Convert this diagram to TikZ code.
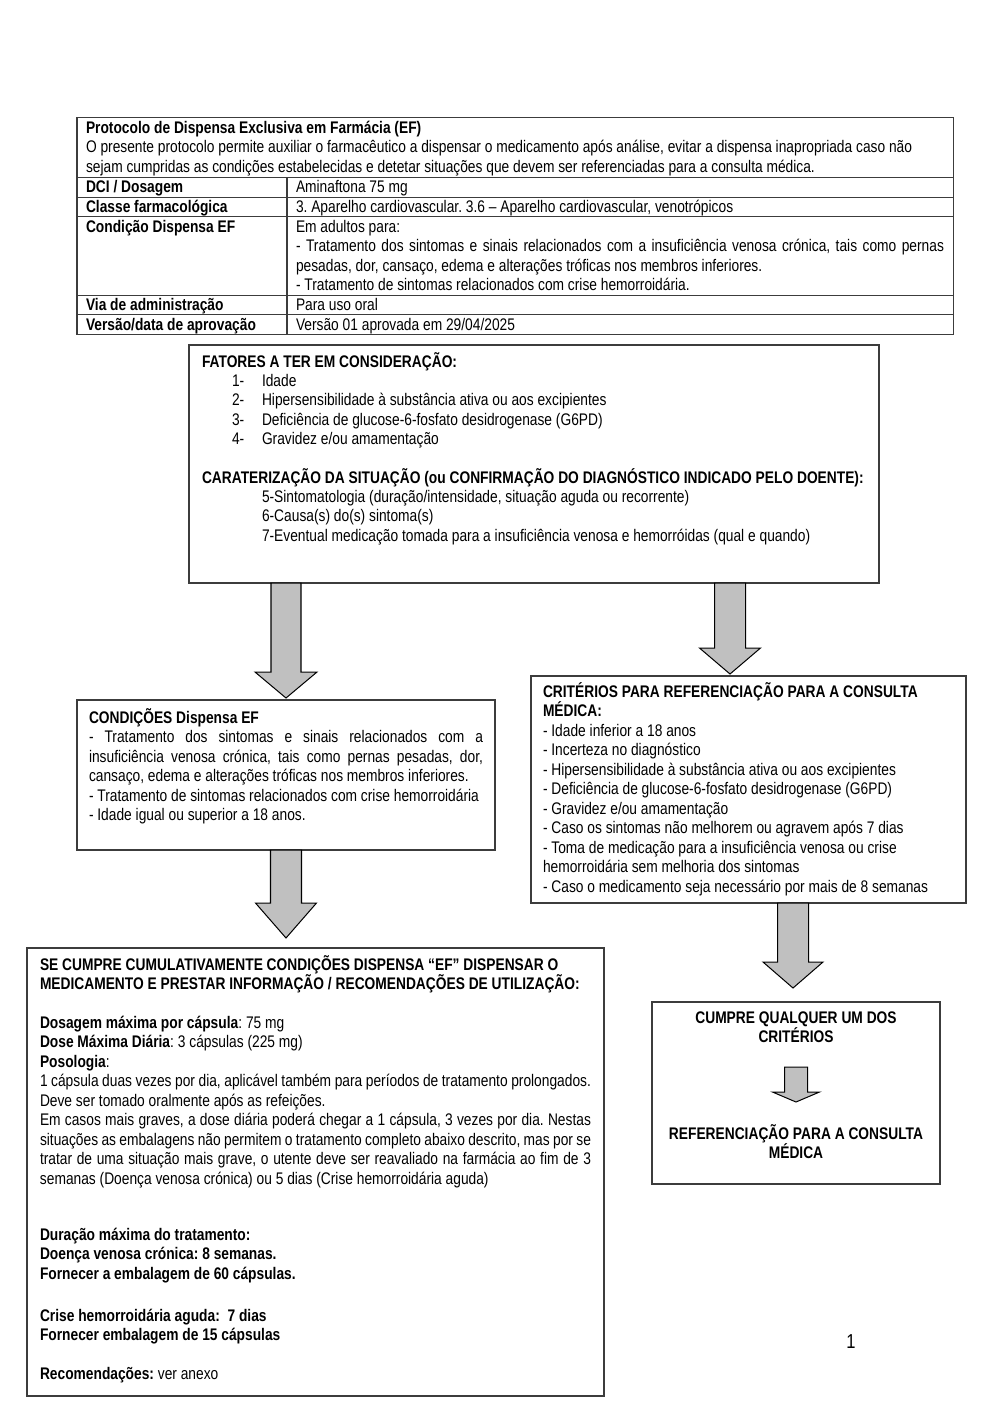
\documentclass[tikz,border=0pt]{standalone}
\usepackage{fontspec}
\setmainfont[FakeStretch=0.82]{Liberation Sans}
\usetikzlibrary{calc}
\newdimen\pxu \pxu=0.5953pt
\definecolor{arrowgray}{RGB}{192,192,192}
\definecolor{linegray}{RGB}{60,60,60}
\tolerance=10000
\hyphenpenalty=10000
\exhyphenpenalty=10000
\frenchspacing
\tikzset{
  box/.style={draw=linegray, line width=0.9pt, anchor=north west, inner sep=0pt, outer sep=0pt},
  txt/.style={anchor=base west, inner sep=0pt, outer sep=0pt, align=flush left, text width=900\pxu, font=\fontsize{10}{11.61}\selectfont\frenchspacing},
  jtxt/.style={txt, align=justify},
  ctxt/.style={anchor=base, inner sep=0pt, outer sep=0pt, align=flush center, text width=280\pxu, font=\fontsize{10}{11.61}\selectfont\bfseries\frenchspacing},
  bigarrow/.style={draw=black, fill=arrowgray, line width=0.6pt, line join=miter},
  tline/.style={draw=linegray, line width=0.6pt}
}
\newcommand\fatarrow[5]{%
  \draw[bigarrow] let \p1=#1, \p2=#2 in
   ({\x1-#4*0.5953pt},\y1) -- ({\x1-#4*0.5953pt},{\y2+#3*0.5953pt}) --
   ({\x1-#5*0.5953pt},{\y2+#3*0.5953pt}) -- (\x1,\y2) --
   ({\x1+#5*0.5953pt},{\y2+#3*0.5953pt}) -- ({\x1+#4*0.5953pt},{\y2+#3*0.5953pt}) --
   ({\x1+#4*0.5953pt},\y1) -- cycle;}
\begin{document}
\begin{tikzpicture}[x=0.5953pt,y=-0.5953pt]
\useasboundingbox[fill=white] (0,0) rectangle (1000,1414);

% ---------- table ----------
\node[box, minimum width=876\pxu, minimum height=217\pxu, line width=0.6pt] (table) at (77,117) {};
\draw[tline] (77,177) -- (953,177);
\draw[tline] (77,197) -- (953,197);
\draw[tline] (77,216) -- (953,216);
\draw[tline] (77,295) -- (953,295);
\draw[tline] (77,314) -- (953,314);
\draw[tline] (287,177) -- (287,334);

\node[txt] (head) at (86,133) {\textbf{Protocolo de Dispensa Exclusiva em Farmácia (EF)}\\
O presente protocolo permite auxiliar o farmacêutico a dispensar o medicamento após análise, evitar a dispensa inapropriada caso não\\
sejam cumpridas as condições estabelecidas e detetar situações que devem ser referenciadas para a consulta médica.};

\node[txt, text width=200\pxu] (l1) at (86,192) {\textbf{DCI / Dosagem}};
\node[txt, text width=200\pxu] (l2) at (86,212) {\textbf{Classe farmacológica}};
\node[txt, text width=200\pxu] (l3) at (86,232) {\textbf{Condição Dispensa EF}};
\node[txt, text width=200\pxu] (l4) at (86,310) {\textbf{Via de administração}};
\node[txt, text width=200\pxu] (l5) at (86,330) {\textbf{Versão/data de aprovação}};

\node[txt, text width=640\pxu] (r1) at (296,192) {Aminaftona 75 mg};
\node[txt, text width=640\pxu] (r2) at (296,212) {3. Aparelho cardiovascular. 3.6 – Aparelho cardiovascular, venotrópicos};
\node[jtxt, text width=648\pxu] (r3) at (296,232) {Em adultos para:\\
- Tratamento dos sintomas e sinais relacionados com a insuficiência venosa crónica, tais como pernas\linebreak
pesadas, dor, cansaço, edema e alterações tróficas nos membros inferiores.\\
- Tratamento de sintomas relacionados com crise hemorroidária.};
\node[txt, text width=640\pxu] (r4) at (296,310) {Para uso oral};
\node[txt, text width=640\pxu] (r5) at (296,330) {Versão 01 aprovada em 29/04/2025};

% ---------- factors box ----------
\node[box, minimum width=690\pxu, minimum height=238\pxu] (fatores) at (189,345) {};
\node[txt] (fat1) at (202,367) {\textbf{FATORES A TER EM CONSIDERAÇÃO:}};
\node[txt, text width=30\pxu] (n1) at (232,386) {1-};
\node[txt, text width=30\pxu] (n2) at (232,405) {2-};
\node[txt, text width=30\pxu] (n3) at (232,425) {3-};
\node[txt, text width=30\pxu] (n4) at (232,444) {4-};
\node[txt, text width=600\pxu] (f1) at (262,386) {Idade};
\node[txt, text width=600\pxu] (f2) at (262,405) {Hipersensibilidade à substância ativa ou aos excipientes};
\node[txt, text width=600\pxu] (f3) at (262,425) {Deficiência de glucose-6-fosfato desidrogenase (G6PD)};
\node[txt, text width=600\pxu] (f4) at (262,444) {Gravidez e/ou amamentação};
\node[txt] (fat2) at (202,483) {\textbf{CARATERIZAÇÃO DA SITUAÇÃO (ou CONFIRMAÇÃO DO DIAGNÓSTICO INDICADO PELO DOENTE):}};
\node[txt, text width=600\pxu] (f5) at (262,502) {5-Sintomatologia (duração/intensidade, situação aguda ou recorrente)\\
6-Causa(s) do(s) sintoma(s)\\
7-Eventual medicação tomada para a insuficiência venosa e hemorróidas (qual e quando)};

% ---------- conditions box ----------
\node[box, minimum width=418\pxu, minimum height=150\pxu] (cond) at (77,700) {};
\node[jtxt, text width=394\pxu] (condt) at (89,723) {\textbf{CONDIÇÕES Dispensa EF}\\
- Tratamento dos sintomas e sinais relacionados com a\linebreak
insuficiência venosa crónica, tais como pernas pesadas, dor,\linebreak
cansaço, edema e alterações tróficas nos membros inferiores.\\
- Tratamento de sintomas relacionados com crise hemorroidária\\
- Idade igual ou superior a 18 anos.};

% ---------- criteria box ----------
\node[box, minimum width=435\pxu, minimum height=227\pxu] (crit) at (531,676) {};
\node[txt, text width=420\pxu] (critt) at (543,697) {\textbf{CRITÉRIOS PARA REFERENCIAÇÃO PARA A CONSULTA}\\
\textbf{MÉDICA:}\\
- Idade inferior a 18 anos\\
- Incerteza no diagnóstico\\
- Hipersensibilidade à substância ativa ou aos excipientes\\
- Deficiência de glucose-6-fosfato desidrogenase (G6PD)\\
- Gravidez e/ou amamentação\\
- Caso os sintomas não melhorem ou agravem após 7 dias\\
- Toma de medicação para a insuficiência venosa ou crise\\
hemorroidária sem melhoria dos sintomas\\
- Caso o medicamento seja necessário por mais de 8 semanas};

% ---------- dispense box ----------
\node[box, minimum width=577\pxu, minimum height=448\pxu] (secumpre) at (27,948) {};
\node[txt, text width=560\pxu] (s1) at (40,970) {\textbf{SE CUMPRE CUMULATIVAMENTE CONDIÇÕES DISPENSA “EF” DISPENSAR O}\\
\textbf{MEDICAMENTO E PRESTAR INFORMAÇÃO / RECOMENDAÇÕES DE UTILIZAÇÃO:}};
\node[jtxt, text width=551\pxu] (s2) at (40,1028) {\textbf{Dosagem máxima por cápsula}: 75 mg\\
\textbf{Dose Máxima Diária}: 3 cápsulas (225 mg)\\
\textbf{Posologia}:\\
1 cápsula duas vezes por dia, aplicável também para períodos de tratamento prolongados.\\
Deve ser tomado oralmente após as refeições.\\
Em casos mais graves, a dose diária poderá chegar a 1 cápsula, 3 vezes por dia. Nestas\linebreak
situações as embalagens não permitem o tratamento completo abaixo descrito, mas por se\linebreak
tratar de uma situação mais grave, o utente deve ser reavaliado na farmácia ao fim de 3\linebreak
semanas (Doença venosa crónica) ou 5 dias (Crise hemorroidária aguda)};
\node[txt, text width=551\pxu] (s3) at (40,1240) {\textbf{Duração máxima do tratamento:}\\
\textbf{Doença venosa crónica: 8 semanas.}\\
\textbf{Fornecer a embalagem de 60 cápsulas.}};
\node[txt, text width=551\pxu] (s4) at (40,1321) {\textbf{Crise hemorroidária aguda:\ \ 7 dias}\\
\textbf{Fornecer embalagem de 15 cápsulas}};
\node[txt, text width=551\pxu] (s5) at (40,1379) {\textbf{Recomendações:} ver anexo};

% ---------- referral box ----------
\node[box, minimum width=288\pxu, minimum height=182\pxu] (cumpre) at (652,1002) {};
\node[ctxt] (c1) at (796,1023) {CUMPRE QUALQUER UM DOS\\CRITÉRIOS};
\node[ctxt] (c2) at (796,1139) {REFERENCIAÇÃO PARA A CONSULTA\\MÉDICA};

% ---------- page number ----------
\node[anchor=base, inner sep=0pt, font=\fontsize{12}{14}\selectfont] (pagenum) at (851,1348) {1};

% ---------- arrows ----------
\coordinate (ax1) at (286,0);
\coordinate (ax2) at (730,0);
\coordinate (ax3) at (793,0);
\fatarrow{(ax1 |- fatores.south)}{($(ax1 |- cond.north)+(0,-2)$)}{26}{15}{31}
\fatarrow{(ax2 |- fatores.south)}{($(ax2 |- crit.north)+(0,-2)$)}{26}{15.5}{30.5}
\fatarrow{(ax1 |- cond.south)}{($(ax1 |- secumpre.north)+(0,-10)$)}{35}{15.5}{30.5}
\fatarrow{(ax3 |- crit.south)}{($(ax3 |- cumpre.north)+(0,-14)$)}{26}{15.5}{30}
\coordinate (sa) at ($(c1.base)+(0,44)$);
\coordinate (sb) at ($(c2.base)+(0,-37)$);
\fatarrow{(sa)}{(sb)}{10}{11.5}{23.5}
\end{tikzpicture}
\end{document}
